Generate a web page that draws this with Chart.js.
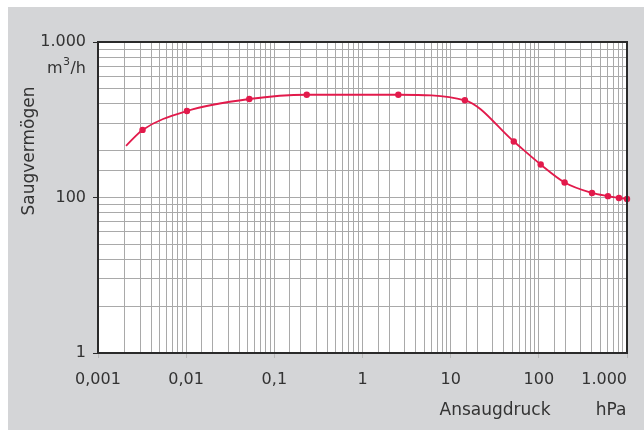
<!DOCTYPE html>
<html lang="de">
<head>
  <meta charset="UTF-8">
  <title>Saugvermögen</title>
  <script src="https://cdn.jsdelivr.net/npm/chart.js"></script>
  <style>
    html, body { margin: 0; padding: 0; background: #fff; }
    #panel {
      position: absolute;
      left: 8px;
      top: 7px;
      width: 636px;
      height: 423px;
      background: #d4d5d7;
    }
  </style>
</head>
<body>
  <div id="panel">
    <canvas id="chart" width="636" height="423"></canvas>
  </div>

  <script>
    // Saugvermögen über Ansaugdruck (hPa, m3/h)
    const pressure = [0.00208, 0.0032, 0.0102, 0.052, 0.233, 2.55, 14.5, 52, 105, 196, 401, 608, 811, 1000];
    const speed    = [215, 272, 360, 430, 458, 458, 422, 229, 163, 125, 107, 102, 99.3, 97.8];
    const marker   = [false, true, true, true, true, true, true, true, true, true, true, true, true, true];

    const xTickValues = [0.001, 0.01, 0.1, 1, 10, 100, 1000];
    const xTickLabels = ['0,001', '0,01', '0,1', '1', '10', '100', '1.000'];
    const yTickValues = [10, 100, 1000];
    const yTickLabels = ['1', '100', '1.000'];

    const FONT = 'DejaVu Sans';
    const TEXT = '#333333';
    const GRID = '#a9a9a9';

    const findLabel = (values, labels, v) => {
      const i = values.findIndex(t => Math.abs(Math.log10(t) - Math.log10(v)) < 1e-6);
      return i >= 0 ? labels[i] : '';
    };

    // weißer Plotbereich
    const plotBackground = {
      id: 'plotBackground',
      beforeDraw(chart) {
        const { ctx, chartArea: a } = chart;
        ctx.save();
        ctx.fillStyle = '#ffffff';
        ctx.fillRect(a.left, a.top, a.right - a.left, a.bottom - a.top);
        ctx.restore();
      }
    };

    // Rahmen oben/rechts + Achsentitel
    const decorations = {
      id: 'decorations',
      afterDatasetsDraw(chart) {
        const { ctx, chartArea: a } = chart;
        ctx.save();
        ctx.strokeStyle = '#2a2a2a';
        ctx.lineWidth = 2;
        ctx.beginPath();
        ctx.moveTo(a.left, a.top);
        ctx.lineTo(a.right, a.top);
        ctx.lineTo(a.right, a.bottom);
        ctx.stroke();

        ctx.fillStyle = TEXT;
        ctx.textBaseline = 'middle';
        ctx.font = '17px "' + FONT + '"';
        ctx.textAlign = 'center';
        ctx.fillText('Ansaugdruck', 487, 404);
        ctx.fillText('hPa', 603, 404);

        // m³/h unter dem obersten Tick
        ctx.textAlign = 'left';
        ctx.font = '16px "' + FONT + '"';
        const wm = ctx.measureText('m').width;
        const wh = ctx.measureText('/h').width;
        ctx.font = '11px "' + FONT + '"';
        const w3 = ctx.measureText('3').width;
        let x = 78 - wm - w3 - wh - 1;
        ctx.font = '16px "' + FONT + '"';
        ctx.fillText('m', x, 62);
        ctx.font = '11px "' + FONT + '"';
        ctx.fillText('3', x + wm + 0.5, 55);
        ctx.font = '16px "' + FONT + '"';
        ctx.fillText('/h', x + wm + w3 + 1, 62);

        ctx.translate(22, 144);
        ctx.rotate(-Math.PI / 2);
        ctx.textAlign = 'center';
        ctx.font = '17px "' + FONT + '"';
        ctx.fillText('Saugvermögen', 0, 0);
        ctx.restore();
      }
    };

    new Chart(document.getElementById('chart'), {
      type: 'line',
      data: {
        datasets: [{
          data: pressure.map((p, i) => ({ x: p, y: speed[i] })),
          borderColor: '#e21a4b',
          backgroundColor: '#e21a4b',
          borderWidth: 1.8,
          cubicInterpolationMode: 'monotone',
          pointRadius: marker.map(m => m ? 3.2 : 0),
          pointBorderWidth: 0,
          clip: false
        }]
      },
      options: {
        responsive: false,
        animation: false,
        layout: { padding: { top: 35, right: 17, left: 0, bottom: 0 } },
        plugins: {
          legend: { display: false },
          tooltip: { enabled: false }
        },
        scales: {
          x: {
            type: 'logarithmic',
            min: 0.001,
            max: 1000,
            afterFit(scale) {
              scale.height = 77;
              scale.paddingLeft = 0;
              scale.paddingRight = 0;
            },
            border: { color: '#2a2a2a', width: 2 },
            grid: {
              color: GRID,
              lineWidth: 1,
              tickLength: 5,
              tickColor: ctx => findLabel(xTickValues, xTickLabels, ctx.tick.value) ? '#b8b8b8' : 'rgba(0,0,0,0)'
            },
            ticks: {
              autoSkip: false,
              maxRotation: 0,
              padding: 12,
              color: TEXT,
              font: { family: FONT, size: 16 },
              callback: v => {
                const s = findLabel(xTickValues, xTickLabels, v);
                // letzte Beschriftung bündig mit dem rechten Rand
                return v >= 1000 ? s + '\u2007\u2007\u2007\u2007 ' : s;
              }
            }
          },
          y: {
            type: 'logarithmic',
            min: 10,
            max: 1000,
            afterFit(scale) {
              scale.width = 90;
              scale.paddingTop = 0;
              scale.paddingBottom = 0;
            },
            border: { color: '#2a2a2a', width: 2 },
            grid: {
              color: GRID,
              lineWidth: 1,
              tickLength: 5,
              tickColor: ctx => findLabel(yTickValues, yTickLabels, ctx.tick.value) ? '#2a2a2a' : 'rgba(0,0,0,0)'
            },
            ticks: {
              autoSkip: false,
              padding: 7,
              color: TEXT,
              font: { family: FONT, size: 16 },
              callback: v => findLabel(yTickValues, yTickLabels, v)
            }
          }
        }
      },
      plugins: [plotBackground, decorations]
    });
  </script>
</body>
</html>
